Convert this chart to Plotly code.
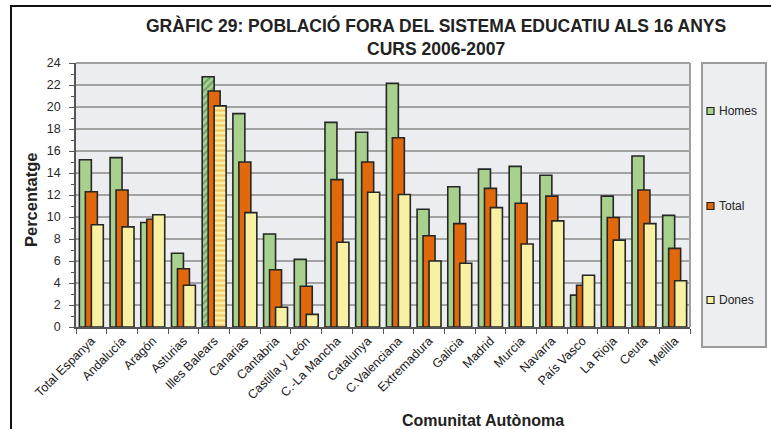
import plotly.graph_objects as go

# Population outside the education system at age 16, school year 2006-2007
comunitats = [
    "Total Espanya", "Andalucía", "Aragón", "Asturias", "Illes Balears",
    "Canarias", "Cantabria", "Castilla y León", "C.-La Mancha", "Catalunya",
    "C.Valenciana", "Extremadura", "Galicia", "Madrid", "Murcia", "Navarra",
    "País Vasco", "La Rioja", "Ceuta", "Melilla",
]
homes = [15.2, 15.4, 9.5, 6.7, 22.75, 19.4, 8.45, 6.15, 18.6, 17.7,
         22.15, 10.7, 12.75, 14.35, 14.6, 13.8, 2.9, 11.9, 15.55, 10.15]
total = [12.3, 12.45, 9.8, 5.3, 21.45, 15.0, 5.2, 3.7, 13.4, 15.0,
         17.2, 8.3, 9.4, 12.6, 11.25, 11.9, 3.8, 9.95, 12.45, 7.15]
dones = [9.3, 9.1, 10.2, 3.8, 20.1, 10.4, 1.8, 1.15, 7.7, 12.25,
         12.05, 6.0, 5.8, 10.85, 7.55, 9.65, 4.7, 7.9, 9.4, 4.2]

series_names = ["Homes", "Total", "Dones"]
series_colors = ["#a9d18e", "#e2690b", "#f8f0a2"]

W, H = 771, 429
L, R, T, B = 76, 81, 63, 102
PW, PH = W - L - R, H - T - B


def px_x(x):
    return (x - L) / PW


def px_y(y):
    return (H - B - y) / PH


highlight = "Illes Balears"
homes_pattern = ["/" if c == highlight else "" for c in comunitats]
dones_pattern = ["-" if c == highlight else "" for c in comunitats]
total_pattern = ["" for _ in comunitats]

fig = go.Figure()
bar_w = 0.39
offsets = [-0.39, -0.195, 0.0]
patterns = [homes_pattern, total_pattern, dones_pattern]
pattern_fg = ["#2f7a4f", "#e2690b", "#f0a030"]
for name, vals, col, off, pat, fg in zip(series_names, [homes, total, dones],
                                         series_colors, offsets, patterns, pattern_fg):
    fig.add_trace(go.Bar(
        x=comunitats, y=vals, name=name, width=bar_w, offset=off,
        marker=dict(color=col, line=dict(color="#262626", width=1.6),
                    pattern=dict(shape=pat, fgcolor=fg, size=5, solidity=0.45)),
        showlegend=False,
    ))

fig.update_layout(
    width=W, height=H,
    margin=dict(l=L, r=R, t=T, b=B),
    paper_bgcolor="white",
    plot_bgcolor="#ebedf0",
    barmode="overlay",
    font=dict(family="Liberation Sans, Arial, sans-serif", color="#222"),
)

fig.update_xaxes(
    type="category", range=[-0.5, len(comunitats) - 0.5],
    tickangle=-45, tickfont=dict(size=12.5, color="#1a1a1a"),
    ticks="outside", tickson="boundaries", ticklen=5, tickcolor="#555",
    showline=True, linecolor="#555", linewidth=1.5, mirror=False,
    showgrid=False,
)
fig.update_yaxes(
    range=[0, 24], dtick=2, tickfont=dict(size=12.5, color="#2a2a2a"),
    ticks="outside", ticklen=5, tickcolor="#555", ticklabelstandoff=6,
    minor=dict(dtick=1, ticks="outside", ticklen=3, tickcolor="#555", showgrid=False),
    showline=True, linecolor="#555", linewidth=1.5,
    showgrid=True, gridcolor="#a3a3a3", gridwidth=2,
    zeroline=False,
)

shapes = [
    # plot area frame (top and right)
    dict(type="line", xref="paper", yref="paper", x0=0, x1=1, y0=1, y1=1,
         line=dict(color="#a0a0a0", width=2)),
    dict(type="line", xref="paper", yref="paper", x0=1, x1=1, y0=0, y1=1,
         line=dict(color="#a0a0a0", width=2)),
    # outer chart frame
    dict(type="rect", xref="paper", yref="paper",
         x0=px_x(11), x1=px_x(790), y0=px_y(6), y1=px_y(450),
         line=dict(color="#111", width=2), layer="below"),
    # legend box
    dict(type="rect", xref="paper", yref="paper",
         x0=px_x(702), x1=px_x(766), y0=px_y(63), y1=px_y(347),
         fillcolor="#eceef0", line=dict(color="#9a9a9a", width=2)),
]

annotations = [
    dict(text="<b>GRÀFIC 29: POBLACIÓ FORA DEL SISTEMA EDUCATIU ALS 16 ANYS"
              "<br>CURS 2006-2007</b>",
         xref="paper", yref="paper", x=px_x(436), y=px_y(37), showarrow=False,
         font=dict(size=17.5, color="#222"), xanchor="center", yanchor="middle",
         align="center"),
    dict(text="<b>Percentatge</b>", textangle=-90,
         xref="paper", yref="paper", x=px_x(31), y=px_y(200), showarrow=False,
         font=dict(size=16.5, color="#222"), xanchor="center", yanchor="middle"),
    dict(text="<b>Comunitat Autònoma</b>",
         xref="paper", yref="paper", x=px_x(483), y=px_y(420), showarrow=False,
         font=dict(size=16, color="#222"), xanchor="center", yanchor="middle"),
]

# legend entries drawn inside the box
legend_y = [111, 206, 300]
for name, col, ly in zip(series_names, series_colors, legend_y):
    shapes.append(dict(type="rect", xref="paper", yref="paper",
                       x0=px_x(707), x1=px_x(714), y0=px_y(ly - 3.5), y1=px_y(ly + 3.5),
                       fillcolor=col, line=dict(color="#222", width=1.2)))
    annotations.append(dict(text=name, xref="paper", yref="paper",
                            x=px_x(717), y=px_y(ly), showarrow=False,
                            xanchor="left", yanchor="middle",
                            font=dict(size=12, color="#222")))

fig.update_layout(shapes=shapes, annotations=annotations)

fig.write_html("out.html")
